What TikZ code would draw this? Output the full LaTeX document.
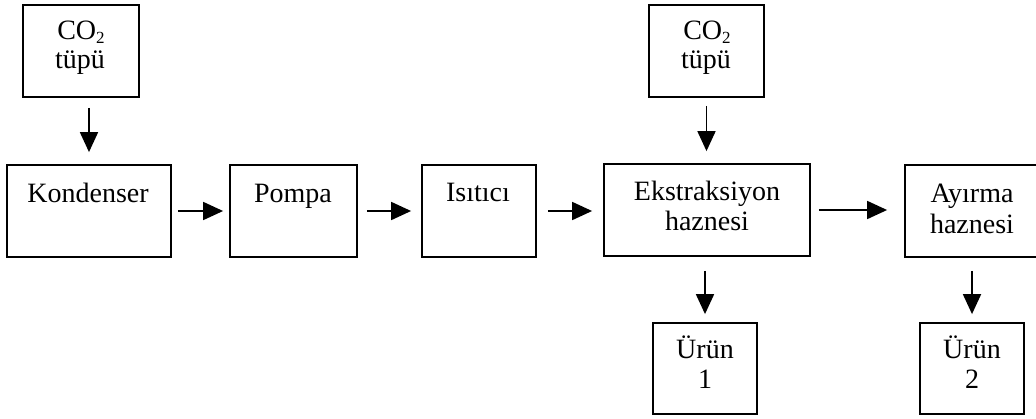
\documentclass[tikz,border=0pt]{standalone}
\usepackage{fontspec}
\setmainfont{Liberation Serif}
\usetikzlibrary{arrows.meta}
\newcommand{\subtwo}{\raisebox{-4pt}{\fontsize{17}{17}\selectfont 2}}
\begin{document}
\begin{tikzpicture}[x=1pt,y=-1pt,
  box/.style={draw, line width=1.8pt, inner sep=0pt, minimum height=92pt},
  txt/.style={font=\fontsize{28}{30}\selectfont, inner sep=0pt, anchor=base},
  arr/.style={line width=1.8pt, -{Triangle[length=20pt,width=18pt]}}]
\useasboundingbox (0,0) rectangle (1036,418);
% boxes
\node[box, minimum width=116pt] (co2a) at (81,51) {};
\node[box, minimum width=164pt] (kond) at (89,211) {};
\node[box, minimum width=127pt] (pompa) at (293.5,211) {};
\node[box, minimum width=114pt] (isit) at (479,211) {};
\node[box, minimum width=206pt] (ekst) at (707,210) {};
\node[box, minimum width=115pt] (co2b) at (706.5,51) {};
\node[box, minimum width=134pt] (ayir) at (972,211) {};
\node[box, minimum width=104pt, minimum height=91pt] (urun1) at (705,368.5) {};
\node[box, minimum width=104pt, minimum height=91pt] (urun2) at (972,368.5) {};
% texts
\node[txt] (co2aA) at (81,39) {CO\subtwo};
\node[txt] (co2aB) at (80,68) {tüpü};
\node[txt] (kondT) at (88,202) {Kondenser};
\node[txt] (pompaT) at (293,202) {Pompa};
\node[txt] (isitT) at (478,201) {Isıtıcı};
\node[txt] (ekstA) at (707,200) {Ekstraksiyon};
\node[txt] (ekstB) at (707,230) {haznesi};
\node[txt] (co2bA) at (707,39) {CO\subtwo};
\node[txt] (co2bB) at (706,68) {tüpü};
\node[txt] (ayirA) at (972,202) {Ayırma};
\node[txt] (ayirB) at (972,233) {haznesi};
\node[txt] (urun1A) at (705,358) {Ürün};
\node[txt] (urun1B) at (705,388) {1};
\node[txt] (urun2A) at (972,358) {Ürün};
\node[txt] (urun2B) at (972,388) {2};
% arrows
\draw[arr, shorten <=10pt, shorten >=12pt] (co2a.south -| kond.north) -- (kond.north);
\draw[arr, shorten <=6pt, shorten >=6pt] (kond.east) -- (pompa.west);
\draw[arr, shorten <=9pt, shorten >=10pt] (pompa.east) -- (isit.west);
\draw[arr, shorten <=11pt, shorten >=11pt] (isit.east) -- (isit.east -| ekst.west);
\draw[arr, shorten <=8pt, shorten >=17pt] (ekst.east) -- (ekst.east -| ayir.west);
\draw[arr, shorten <=8pt, shorten >=12pt] (co2b.south) -- (co2b.south |- ekst.north);
\draw[arr, shorten <=14pt, shorten >=8pt] (urun1.north |- ekst.south) -- (urun1.north);
\draw[arr, shorten <=13pt, shorten >=8pt] (ayir.south) -- (urun2.north);
\end{tikzpicture}
\end{document}
